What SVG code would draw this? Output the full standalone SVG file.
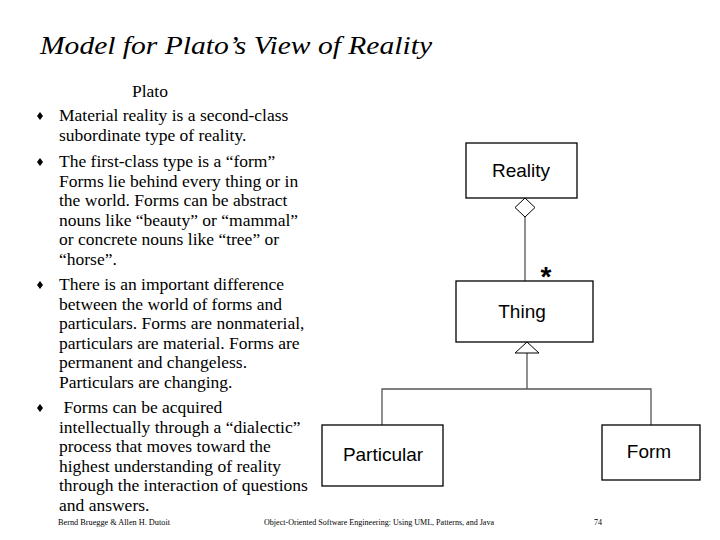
<svg xmlns="http://www.w3.org/2000/svg" width="720" height="540" viewBox="0 0 720 540">
<style>
.t{font-family:"Liberation Serif",serif;font-size:17.5px;fill:#000}
.b{fill:#fff;stroke:#000;stroke-width:1.3}
.n{font-family:"Liberation Sans",Arial,sans-serif;font-size:19px;text-anchor:middle}
.c{fill:none;stroke:#555;stroke-width:1.3}
.f{font-family:"Liberation Serif",serif;font-size:8px}
</style>
<rect width="720" height="540" fill="#fff"/>
<text x="40" y="54" textLength="392" lengthAdjust="spacingAndGlyphs" style="font-family:'Liberation Serif',serif;font-size:26px;font-style:italic">Model for  Plato’s View of Reality</text>
<g class="t">
<text x="132" y="97">Plato</text>
<text x="59" y="121">Material reality is a second-class</text>
<text x="59" y="141">subordinate type of reality.</text>
<text x="59" y="167">The first-class type is a “form”</text>
<text x="59" y="187">Forms lie behind every thing or in</text>
<text x="59" y="206">the world. Forms can be abstract</text>
<text x="59" y="226">nouns like “beauty” or “mammal”</text>
<text x="59" y="245">or concrete nouns like “tree” or</text>
<text x="59" y="265">“horse”.</text>
<text x="59" y="290">There is an important difference</text>
<text x="59" y="310">between the world of forms and</text>
<text x="59" y="329">particulars. Forms are nonmaterial,</text>
<text x="59" y="349">particulars are material. Forms are</text>
<text x="59" y="368">permanent and changeless.</text>
<text x="59" y="388">Particulars are changing.</text>
<text x="59" y="413" xml:space="preserve"> Forms can be acquired</text>
<text x="59" y="433">intellectually through a “dialectic”</text>
<text x="59" y="452">process that moves toward the</text>
<text x="59" y="472">highest understanding of reality</text>
<text x="59" y="491">through the interaction of questions</text>
<text x="59" y="511">and answers.</text>
</g>
<g fill="#000">
<path d="M37 116l3-4 3 4-3 4z"/><path d="M37 162l3-4 3 4-3 4z"/><path d="M37 285l3-4 3 4-3 4z"/><path d="M37 408l3-4 3 4-3 4z"/>
</g>
<g id="connectors">
<line class="c" x1="525" y1="217" x2="525" y2="281"/>
<path d="M525 198l10 9.5-10 9.5-10-9.5z" fill="#fff" stroke="#000" stroke-width="1"/>
<path class="c" d="M527 353V389M382 425V389H651V425"/>
<path d="M527 342l12 11h-24z" fill="#fff" stroke="#000" stroke-width="1"/>
<text x="546" y="286" style="font-family:'Liberation Sans',sans-serif;font-size:28px;font-weight:bold;text-anchor:middle">*</text>
</g>
<g id="reality"><rect class="b" x="466" y="143" width="111" height="55"/><text class="n" x="521" y="177">Reality</text></g>
<g id="thing"><rect class="b" x="456" y="281" width="137" height="61"/><text class="n" x="522" y="318">Thing</text></g>
<g id="particular"><rect class="b" x="322" y="425" width="121" height="61"/><text class="n" x="383" y="461">Particular</text></g>
<g id="form"><rect class="b" x="602" y="425" width="98" height="55"/><text class="n" x="649" y="458">Form</text></g>
<text class="f" x="58" y="525" textLength="112" lengthAdjust="spacingAndGlyphs">Bernd Bruegge &amp; Allen H. Dutoit</text>
<text class="f" x="264" y="525" textLength="230" lengthAdjust="spacingAndGlyphs">Object-Oriented Software Engineering: Using UML, Patterns, and Java</text>
<text class="f" x="594" y="525">74</text>
</svg>
